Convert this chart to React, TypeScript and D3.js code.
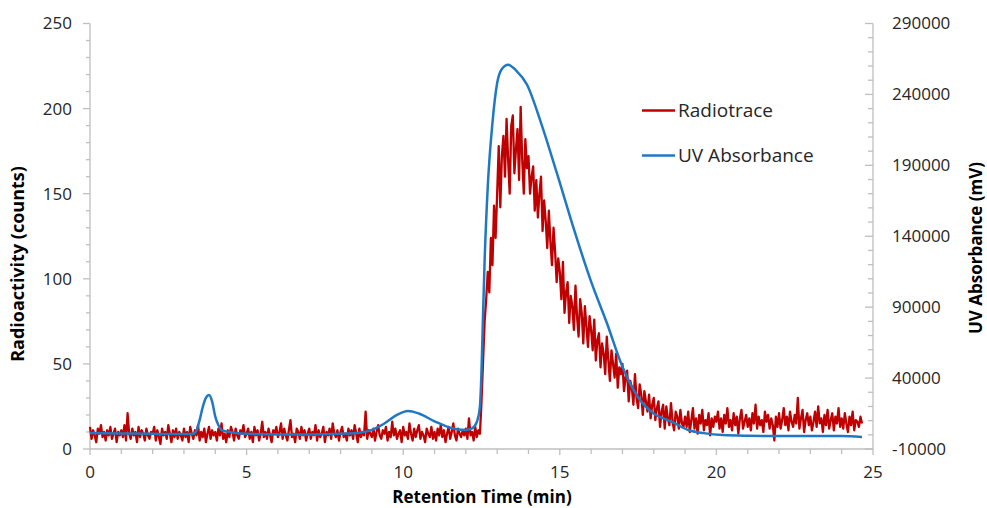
import React from "react";
import * as d3 from "d3";

// Radiotrace (counts), sampled every 0.05 min from 0 to 24.65 min
const radioStepMin = 0.05;
const radioCounts: number[] = [
  // 0 min
  13, 6, 11, 8, 4, 12, 9, 14, 7, 10, 5, 11, 8, 13, 6, 9, 12, 4, 10, 8,
  // 1
  11, 7, 14, 5, 21, 9, 6, 12, 8, 10, 4, 13, 7, 11, 9, 5, 12, 8, 6, 10,
  // 2
  9, 13, 5, 11, 7, 3, 12, 8, 10, 6, 14, 9, 4, 11, 7, 12, 6, 10, 8, 5,
  // 3
  12, 7, 10, 4, 13, 9, 6, 11, 8, 14, 5, 10, 7, 12, 4, 9, 13, 6, 11, 8,
  // 4
  10, 5, 12, 8, 15, 6, 9, 4, 11, 7, 13, 10, 5, 12, 8, 6, 11, 9, 14, 7,
  // 5
  9, 12, 6, 10, 4, 13, 8, 11, 5, 9, 16, 7, 10, 6, 12, 8, 4, 11, 9, 13,
  // 6
  7, 10, 15, 6, 12, 8, 5, 11, 17, 7, 9, 4, 12, 10, 6, 13, 8, 11, 5, 9,
  // 7
  12, 6, 10, 8, 14, 5, 11, 7, 9, 13, 4, 10, 8, 12, 6, 15, 9, 7, 11, 5,
  // 8
  10, 13, 7, 9, 5, 12, 8, 11, 6, 14, 9, 4, 12, 7, 10, 8, 22, 6, 11, 9,
  // 9
  7, 12, 5, 10, 14, 8, 6, 11, 9, 13, 5, 10, 7, 16, 8, 12, 6, 9, 11, 4,
  // 10
  13, 8, 10, 6, 15, 9, 5, 12, 7, 11, 14, 6, 10, 8, 4, 12, 9, 7, 13, 6,
  // 11
  10, 5, 12, 8, 14, 7, 11, 4, 9, 13, 6, 10, 15, 8, 5, 12, 9, 7, 11, 8,
  // 12
  12, 6, 18, 8, 10, 5, 13, 7, 11, 9, 28, 52, 75, 88, 104, 92, 124, 108, 143, 124,
  // 13
  150, 178, 142, 172, 184, 160, 194, 170, 150, 190, 196, 162, 176, 188, 158, 201, 170, 150, 182, 165,
  // 14
  172, 150, 160, 166, 140, 158, 136, 150, 160, 128, 146, 134, 118, 140, 122, 108, 130, 116, 98, 112,
  // 15
  104, 88, 110, 80, 92, 98, 74, 90, 84, 70, 96, 78, 66, 88, 80, 62, 84, 72, 60, 78,
  // 16
  70, 58, 76, 52, 64, 68, 48, 62, 56, 44, 66, 52, 40, 58, 50, 42, 56, 36, 48, 44,
  // 17
  50, 34, 42, 46, 28, 40, 36, 26, 44, 30, 24, 38, 32, 20, 34, 28, 22, 32, 18, 26,
  // 18
  30, 17, 24, 28, 13, 22, 26, 12, 25, 18, 14, 27, 16, 11, 22, 19, 12, 23, 15, 13,
  // 19
  19, 13, 22, 10, 17, 24, 12, 18, 9, 20, 15, 23, 11, 17, 14, 21, 8, 18, 13, 19,
  // 20
  16, 22, 12, 18, 10, 20, 15, 24, 13, 17, 11, 21, 14, 19, 9, 18, 23, 12, 16, 20,
  // 21
  13, 18, 11, 21, 15, 26, 12, 19, 14, 17, 10, 22, 16, 20, 12, 18, 14, 5, 19, 13,
  // 22
  21, 12, 17, 24, 14, 19, 11, 22, 16, 13, 20, 15, 30, 12, 18, 23, 10, 17, 21, 14,
  // 23
  19, 11, 16, 22, 13, 25, 15, 18, 10, 20, 14, 23, 12, 17, 21, 11, 19, 15, 24, 13,
  // 24
  18, 12, 21, 15, 10, 19, 14, 22, 11, 17, 16, 13, 19, 15,
];

// UV absorbance (mV)
const uvTime: number[] = [
  0, 1, 2, 3, 3.3, 3.4, 3.5, 3.6, 3.7, 3.8, 3.9, 4.0, 4.1, 4.2, 4.6, 5, 6, 7, 8, 8.6,
  9.0, 9.4, 9.8, 10.15, 10.5, 11.0, 11.5, 12.0, 12.2, 12.35, 12.45, 12.5, 12.55, 12.6, 12.7,
  12.85, 13.0, 13.15, 13.35, 13.6, 13.95, 14.4, 14.9, 15.45, 16.0, 16.5, 17.0, 17.5, 18.0,
  18.6, 19.1, 19.6, 20.2, 21, 22, 23, 24, 24.65,
];
const uvValue: number[] = [
  1300, 1000, 700, 500, 700, 3000, 10400, 19600, 26000, 28000, 23400, 12800, 6800, 3300, 1500, 700, 300, 300, 800, 1500,
  3500, 8000, 14000, 16800, 15000, 9500, 5000, 3400, 4500, 9000, 20000, 45000, 85000, 123000, 175000,
  220000, 248000, 258000, 261000, 257000, 247000, 220000, 185000, 145000, 108000, 79000, 48000, 26500, 15000,
  9000, 3400, 1200, -200, -700, -900, -900, -900, -1500,
];

const xTicks = [0, 5, 10, 15, 20, 25];
const leftTicks = [0, 50, 100, 150, 200, 250];
const rightTicks = [-10000, 40000, 90000, 140000, 190000, 240000, 290000];
const seriesNames = ["Radiotrace", "UV Absorbance"];

const W = 987;
const H = 508;
const AX = "#bfbfbf";
const RED = "#c00000";
const BLUE = "#1f78c4";
const FONT = "'Open Sans', sans-serif";

export default function App() {
  const x = d3.scaleLinear().domain([0, 25]).range([90, 873]);
  const yL = d3.scaleLinear().domain([0, 250]).range([449, 23.5]);
  const yR = d3.scaleLinear().domain([-10000, 290000]).range([449, 23.5]);

  const radio = radioCounts.map((v, i) => ({ t: i * radioStepMin, v }));
  const uv = uvTime.map((t, i) => ({ t, v: uvValue[i] }));

  const redLine = d3
    .line<{ t: number; v: number }>()
    .x((d) => x(d.t))
    .y((d) => yL(d.v));
  const blueLine = d3
    .line<{ t: number; v: number }>()
    .x((d) => x(d.t))
    .y((d) => yR(d.v))
    .curve(d3.curveMonotoneX);

  const xMinor = d3.range(0, 26, 1).filter((v) => v % 5 !== 0);
  const leftMinor = d3.range(0, 251, 10).filter((v) => v % 50 !== 0);
  const rightMinor = d3.range(-10000, 290001, 10000).filter((v) => (v + 10000) % 50000 !== 0);

  const x0 = x(0), x1 = x(25), yb = yL(0), yt = yL(250);

  return (
    <svg
      width={W}
      height={H}
      style={{ position: "absolute", left: 0, top: 0, display: "block", background: "#fff" }}
      fontFamily={FONT}
    >
      <rect width={W} height={H} fill="#fff" />
      {/* axes lines */}
      <line x1={x0} x2={x0} y1={yt} y2={yb} stroke={AX} strokeWidth={1.3} />
      <line x1={x1} x2={x1} y1={yt} y2={yb} stroke={AX} strokeWidth={1.3} />
      <line x1={x0} x2={x1} y1={yb} y2={yb} stroke={AX} strokeWidth={1.3} />

      {/* left ticks */}
      {leftTicks.map((v) => (
        <g key={"lt" + v}>
          <line x1={x0 - 7} x2={x0} y1={yL(v)} y2={yL(v)} stroke={AX} strokeWidth={1.3} />
          <text x={x0 - 18} y={yL(v)} dy="0.35em" textAnchor="end" fontSize={17} fill="#262626">
            {v}
          </text>
        </g>
      ))}
      {leftMinor.map((v) => (
        <line key={"lm" + v} x1={x0 - 4} x2={x0} y1={yL(v)} y2={yL(v)} stroke={AX} strokeWidth={1.3} />
      ))}

      {/* right ticks */}
      {rightTicks.map((v) => (
        <g key={"rt" + v}>
          <line x1={x1 - 8} x2={x1} y1={yR(v)} y2={yR(v)} stroke={AX} strokeWidth={1.3} />
          <text x={x1 + 19} y={yR(v)} dy="0.35em" textAnchor="start" fontSize={17} fill="#262626">
            {v}
          </text>
        </g>
      ))}
      {rightMinor.map((v) => (
        <line key={"rm" + v} x1={x1 - 5} x2={x1} y1={yR(v)} y2={yR(v)} stroke={AX} strokeWidth={1.3} />
      ))}

      {/* x ticks */}
      {xTicks.map((v) => (
        <g key={"xt" + v}>
          <line x1={x(v)} x2={x(v)} y1={yb} y2={yb + 6} stroke={AX} strokeWidth={1.3} />
          <text x={x(v)} y={yb + 29} textAnchor="middle" fontSize={17} fill="#262626">
            {v}
          </text>
        </g>
      ))}
      {xMinor.map((v) => (
        <line key={"xm" + v} x1={x(v)} x2={x(v)} y1={yb} y2={yb + 5} stroke={AX} strokeWidth={1.3} />
      ))}

      {/* series */}
      <path d={redLine(radio) || ""} fill="none" stroke={RED} strokeWidth={2.3} strokeLinejoin="round" />
      <path d={blueLine(uv) || ""} fill="none" stroke={BLUE} strokeWidth={2.5} strokeLinejoin="round" />

      {/* legend */}
      <line x1={642} x2={675} y1={110.5} y2={110.5} stroke={RED} strokeWidth={2.5} />
      <text x={678} y={110.5} dy="0.35em" fontSize={19} fill="#262626">
        {seriesNames[0]}
      </text>
      <line x1={642} x2={675} y1={155.5} y2={155.5} stroke={BLUE} strokeWidth={2.5} />
      <text x={678} y={155.5} dy="0.35em" fontSize={19} fill="#262626">
        {seriesNames[1]}
      </text>

      {/* axis titles */}
      <text x={482} y={503} textAnchor="middle" fontSize={17} fontWeight="bold" fill="#000">
        Retention Time (min)
      </text>
      <text
        transform="translate(18,264) rotate(-90)"
        textAnchor="middle"
        dy="0.35em"
        fontSize={18}
        fontWeight="bold"
        fill="#000"
      >
        Radioactivity (counts)
      </text>
      <text
        transform="translate(976,248) rotate(-90)"
        textAnchor="middle"
        dy="0.35em"
        fontSize={17}
        fontWeight="bold"
        fill="#000"
      >
        UV Absorbance (mV)
      </text>
    </svg>
  );
}
